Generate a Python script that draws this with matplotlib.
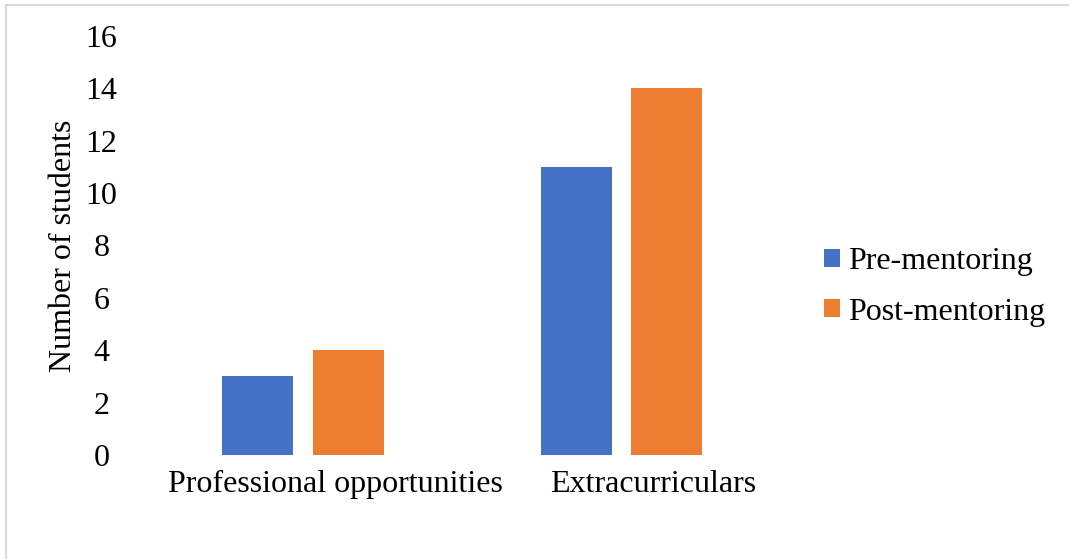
import matplotlib.pyplot as plt
import numpy as np
from matplotlib.lines import Line2D

categories = ["Professional opportunities", "Extracurriculars"]
series_names = ["Pre-mentoring", "Post-mentoring"]
pre_values = [3, 11]
post_values = [4, 14]
y_ticks = [0, 2, 4, 6, 8, 10, 12, 14, 16]

BLUE = "#4472C4"
ORANGE = "#ED7D31"

plt.rcParams["font.family"] = ["Liberation Serif", "DejaVu Serif"]

fig = plt.figure(figsize=(10.69, 5.59), dpi=100)
ax = fig.add_axes([143 / 1069, 104 / 559, 637 / 1069, 419 / 559])

x = np.arange(len(categories))
width = 0.223
ax.bar(x - 0.243, pre_values, width, color=BLUE, label=series_names[0])
ax.bar(x + 0.041, post_values, width, color=ORANGE, label=series_names[1])

ax.set_xlim(-0.603, 1.397)
ax.set_ylim(0, 16)
ax.set_yticks(y_ticks)
ax.set_xticks(x)
ax.set_xticklabels(categories)

for side in ["top", "right", "bottom", "left"]:
    ax.spines[side].set_visible(False)
ax.tick_params(axis="both", length=0, labelsize=23)
ax.tick_params(axis="y", pad=30)
ax.tick_params(axis="x", pad=11)
for lbl in ax.get_yticklabels():
    lbl.set_horizontalalignment("center")

ax.set_ylabel("Number of students", fontsize=23)
ax.yaxis.set_label_coords(-0.102, 0.5)

fig.legend(
    loc="center left",
    bbox_to_anchor=(824 / 1069, 1 - 287 / 559),
    frameon=False,
    fontsize=23,
    handlelength=0.5,
    handleheight=0.5,
    handletextpad=0.25,
    labelspacing=0.67,
    borderpad=0,
    borderaxespad=0,
)

# light grey frame on the top and left edges
fig.add_artist(Line2D([6 / 1069, 6 / 1069], [0, 1 - 5 / 559],
                      transform=fig.transFigure, color="#d9d9d9", linewidth=1.5))
fig.add_artist(Line2D([6 / 1069, 1], [1 - 5 / 559, 1 - 5 / 559],
                      transform=fig.transFigure, color="#d9d9d9", linewidth=1.5))

fig.savefig("out.png", dpi=100)
plt.close(fig)
